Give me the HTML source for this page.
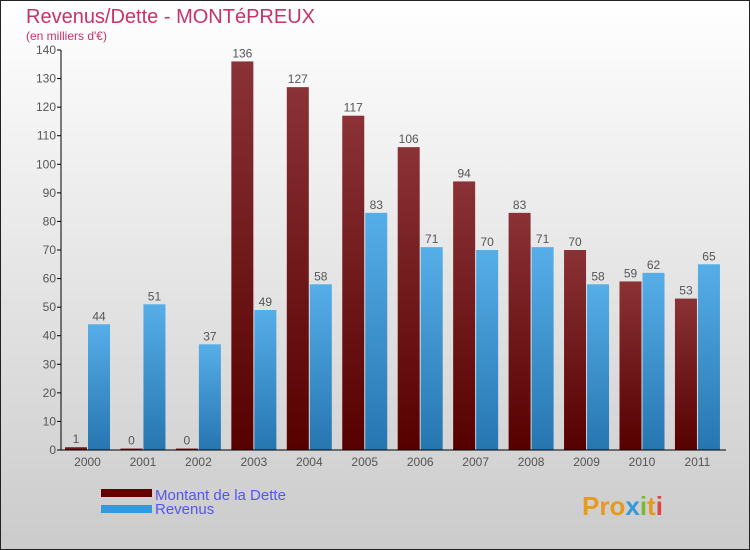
<!DOCTYPE html>
<html><head><meta charset="utf-8"><style>
body{margin:0;}
svg{display:block;font-family:"Liberation Sans",sans-serif;}
</style></head><body>
<svg id="chart" width="750" height="550" xmlns="http://www.w3.org/2000/svg">
<defs>
<linearGradient id="bg" x1="0" y1="0" x2="0" y2="1"><stop offset="0" stop-color="#ffffff"/><stop offset="1" stop-color="#cbcbcb"/></linearGradient>
<linearGradient id="gd" x1="0" y1="0" x2="0" y2="1"><stop offset="0" stop-color="#8a3236"/><stop offset="1" stop-color="#560000"/></linearGradient>
<linearGradient id="gr" x1="0" y1="0" x2="0" y2="1"><stop offset="0" stop-color="#56aee8"/><stop offset="1" stop-color="#2676b0"/></linearGradient>
</defs>
<rect x="0.5" y="0.5" width="749" height="549" fill="url(#bg)" stroke="#222"/>
<text x="26" y="23" font-size="20" fill="#c8326a">Revenus/Dette - MONTéPREUX</text>
<text x="26" y="40" font-size="12" fill="#c8326a">(en milliers d'€)</text>
<g id="plot"></g>
<rect x="101" y="489" width="51" height="8" fill="#660000"/>
<rect x="101" y="505" width="51" height="8" fill="#3399dd"/>
<text x="155" y="500" font-size="15" fill="#5555ee">Montant de la Dette</text>
<text x="155" y="514" font-size="15" fill="#5555ee">Revenus</text>
<text x="582" y="515" font-size="26" font-weight="bold" fill="#e89a20">Pro<tspan fill="#3399dd">x</tspan><tspan fill="#77bb33">i</tspan>t<tspan fill="#dd4444">i</tspan></text>
</svg>
<script>
const years=["2000","2001","2002","2003","2004","2005","2006","2007","2008","2009","2010","2011"];
const dette=[1,0,0,136,127,117,106,94,83,70,59,53];
const revenus=[44,51,37,49,58,83,71,70,71,58,62,65];
const ticks=[0,10,20,30,40,50,60,70,80,90,100,110,120,130,140];
const NS="http://www.w3.org/2000/svg";
const g=document.getElementById('plot');
const x0=60,step=55.45,y0=450,ppu=400/140;
const y=v=>y0-v*ppu;
function mk(t,a,txt){const e=document.createElementNS(NS,t);for(const k in a)e.setAttribute(k,a[k]);if(txt!==undefined)e.textContent=txt;g.appendChild(e);return e;}
ticks.forEach(t=>{
 const l=mk('line',{x1:57,x2:61,y1:y(t),y2:y(t),stroke:'#000'});
 
 
 const tx=mk('text',{x:56,y:y(t)+4,'font-size':12,fill:'#555','text-anchor':'end'},t);
 
 
});
years.forEach((yr,i)=>{
 const gx=x0+i*step;
 const hd=Math.max(dette[i]*ppu,1.5);
 const b1=mk('rect',{x:gx+5,y:y0-hd,width:22,height:hd,fill:'url(#gd)'});
 
 
 const b2=mk('rect',{x:gx+28,y:y(revenus[i]),width:22,height:revenus[i]*ppu,fill:'url(#gr)'});
 
 
 const l1=mk('text',{x:gx+16,y:y0-hd-4,'font-size':12,fill:'#555','text-anchor':'middle'},dette[i]);
 
 
 const l2=mk('text',{x:gx+39,y:y(revenus[i])-4,'font-size':12,fill:'#555','text-anchor':'middle'},revenus[i]);
 
 
 const xl=mk('text',{x:gx+27.5,y:466,'font-size':12,fill:'#555','text-anchor':'middle'},yr);
 
 
});
const ya=mk('line',{x1:61,x2:61,y1:y(140),y2:y0,stroke:'#000'});


const xa=mk('line',{x1:61,x2:726,y1:y0,y2:y0,stroke:'#000'});


</script>
</body></html>
